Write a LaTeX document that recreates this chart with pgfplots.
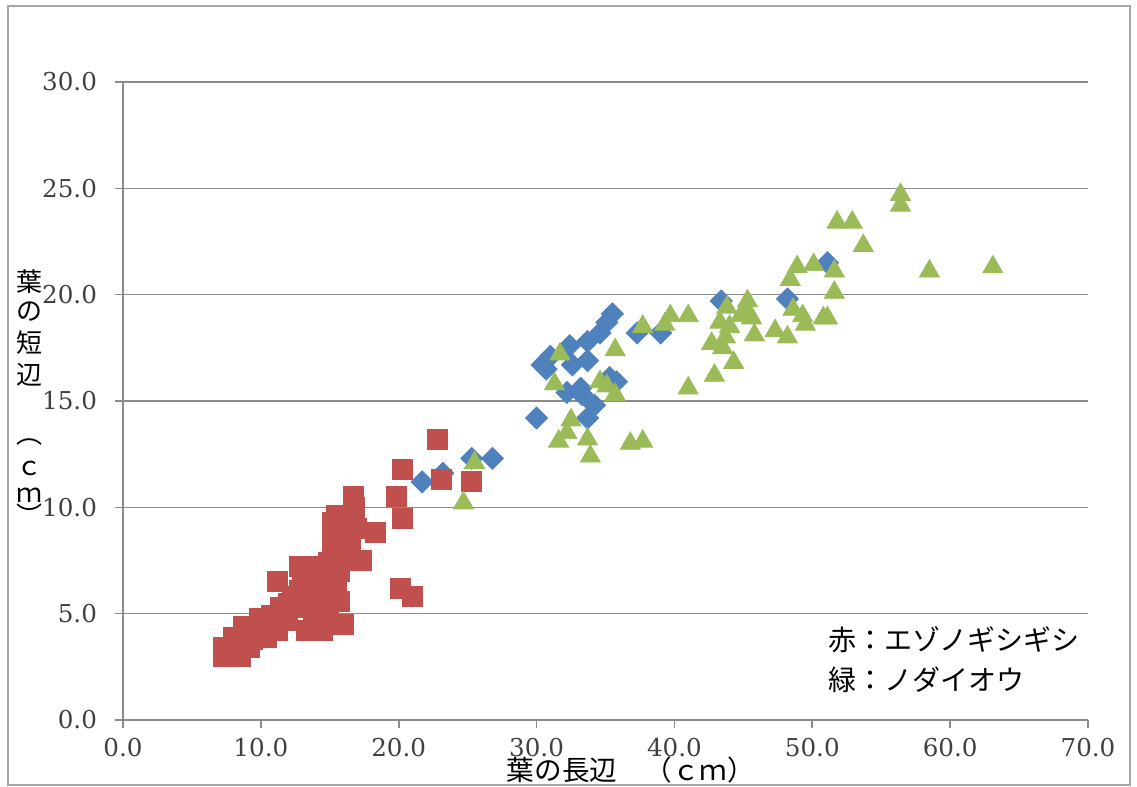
\documentclass[border=0pt]{standalone}
\usepackage{fontspec}
\setmainfont{DejaVu Serif}
\newfontfamily\jp{Noto Sans CJK JP}
\usepackage{pgfplots}
\pgfplotsset{compat=1.18}
\definecolor{sblue}{HTML}{4F81BD}
\definecolor{sred}{HTML}{C0504D}
\definecolor{sgreen}{HTML}{9BBB59}
\definecolor{gridc}{HTML}{8C8C8C}
\begin{document}
\begin{tikzpicture}[x=1pt,y=1pt]
\useasboundingbox (-61.5,-33.5) rectangle (507,360);
\draw[gray!70, line width=1.2pt] (-57.5,-32.5) rectangle (503.5,357);
\begin{axis}[at={(0,0)}, anchor=south west, scale only axis,
  width=482.5pt, height=319pt,
  xmin=0, xmax=70, ymin=0, ymax=30,
  xtick distance=10, ytick distance=5,
  axis x line*=bottom, axis y line*=left,
  axis line style={gridc, line width=0.8pt},
  ymajorgrids, grid style={gridc, line width=0.8pt},
  tick align=outside, major tick length=4pt,
  tick style={gridc, line width=0.8pt},
  /pgf/number format/.cd, fixed, fixed zerofill, precision=1, assume math mode=true,
  /pgfplots/.cd,
  ticklabel style={font=\fontsize{12.3}{12.3}\selectfont, text=black!75},
  yticklabel style={xshift=-5.5pt},
  xticklabel style={yshift=-1.5pt},
  clip=false]
\addplot[only marks, mark=square*, mark size=3.9pt, mark options={rotate=45, fill=sblue, draw=sblue}] coordinates {
(21.7,11.2)(23.2,11.6)(25.3,12.3)(26.8,12.3)(30.0,14.2)(30.7,16.5)(30.4,16.7)(31.0,17.1)
(32.4,17.6)(32.6,16.7)(33.7,17.8)(33.7,16.9)(34.6,18.2)(35.1,18.7)(35.5,19.1)
(32.2,15.4)(33.2,15.6)(33.3,15.3)(34.2,14.8)(33.7,14.2)(35.3,16.1)(35.8,15.9)
(37.3,18.2)(39.0,18.2)(43.4,19.7)(48.2,19.8)(51.1,21.5)
};
\addplot[only marks, mark=square*, mark size=5pt, mark options={fill=sred, draw=sred}] coordinates {
(7.3,3.0)(7.3,3.4)(8.0,3.0)(8.5,3.0)(8.0,3.9)(8.7,4.4)(9.2,3.4)(9.4,3.8)(8.9,3.6)(9.5,4.2)
(9.9,4.8)(10.4,3.9)(10.0,4.5)(10.8,4.9)(11.2,4.2)(11.4,5.3)(11.9,4.7)(11.2,6.5)(12.0,5.5)
(12.8,7.2)(12.8,6.1)(12.3,5.8)(13.3,5.3)(13.8,4.7)(13.3,4.2)(14.5,4.2)(14.0,5.2)(13.9,5.9)
(13.0,6.7)(13.6,6.4)(14.4,6.8)(14.8,6.4)(14.3,7.2)(14.9,7.4)(14.9,5.0)(15.3,5.9)(15.2,7.8)
(15.7,5.6)(15.7,7.0)(15.5,6.3)(16.0,4.5)(15.8,7.6)(17.0,7.5)(17.3,7.5)
(15.2,9.3)(15.2,8.3)(15.5,8.7)(15.5,9.6)(16.0,9.0)(16.2,8.8)(16.5,8.3)(16.9,9.0)
(16.7,10.5)(16.8,10.0)(18.3,8.8)(19.8,10.5)(20.3,9.5)(20.3,11.8)(22.8,13.2)(23.1,11.3)
(25.3,11.2)(20.1,6.2)(21.0,5.8)
};
\addplot[only marks, mark=triangle*, mark size=5.8pt, mark options={fill=sgreen, draw=sgreen}] coordinates {
(24.7,10.2)(25.5,12.1)(31.3,15.8)(31.6,13.1)(31.7,17.2)(32.2,13.5)(32.5,14.1)(33.7,13.2)
(33.9,12.4)(34.6,15.9)(35.1,15.7)(35.7,15.3)(35.7,17.4)(36.8,13.0)(37.7,13.1)(37.7,18.5)
(39.3,18.6)(39.7,19.0)(41.0,19.0)(41.0,15.6)(42.7,17.7)(42.9,16.2)(43.3,18.7)(43.5,17.5)
(43.7,18.0)(43.8,19.4)(44.0,18.5)(44.3,16.8)(44.8,19.0)(45.3,19.7)(45.3,19.2)(45.6,18.9)
(45.8,18.1)(47.3,18.3)(48.2,18.0)(48.4,20.7)(48.6,19.3)(48.9,21.3)(49.3,19.0)(49.5,18.6)
(50.1,21.4)(50.8,18.9)(51.1,18.9)(51.6,21.1)(51.6,20.1)(51.8,23.4)(52.9,23.4)(53.7,22.3)
(56.4,24.2)(56.4,24.7)(58.5,21.1)(63.1,21.3)
};
\end{axis}
\begin{scope}[every node/.style={font=\jp\fontsize{13}{13}\selectfont, inner sep=0pt}]
\node[font=\jp\fontsize{13.8}{13.8}\selectfont] at (254,-25) {葉の長辺　（ｃｍ）};
\node at (-46.5,219) {葉};
\node at (-46.5,204) {の};
\node at (-46.5,188.5) {短};
\node at (-46.5,172.5) {辺};
\node at (-46.5,139) {︵};
\node at (-46.5,126) {ｃ};
\node at (-46.5,112.5) {ｍ};
\node at (-46.5,102.5) {︶};
\node[anchor=west, font=\jp\fontsize{14}{14}\selectfont] at (352.5,40) {赤：エゾノギシギシ};
\node[anchor=west, font=\jp\fontsize{14}{14}\selectfont] at (352.5,20) {緑：ノダイオウ};
\end{scope}
\end{tikzpicture}
\end{document}
